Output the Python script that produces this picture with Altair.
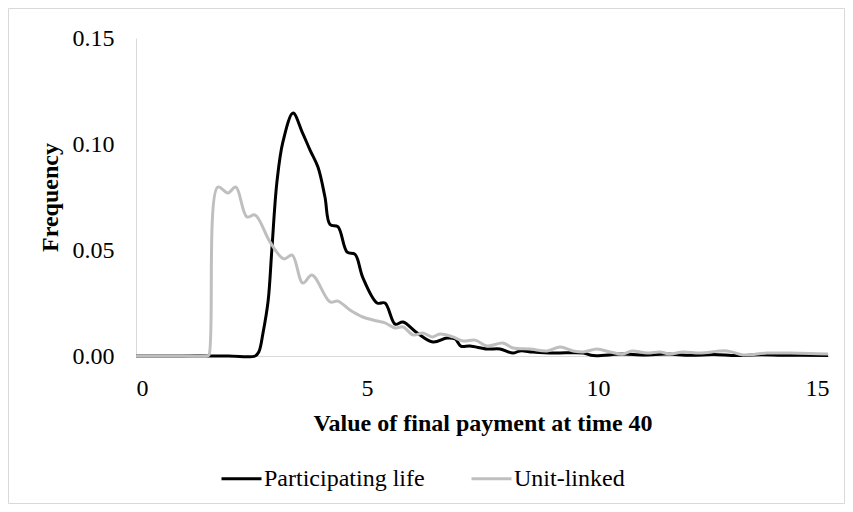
import altair as alt
import pandas as pd

# Participating life
part_x = [0.0, 1.0, 2.0, 2.58, 2.66, 2.75, 2.86, 2.94, 3.05, 3.18, 3.40, 3.59, 3.77, 3.94, 4.09, 4.20,
          4.37, 4.57, 4.74, 4.91, 5.22, 5.39, 5.61, 5.78, 6.08, 6.43, 6.73, 6.91, 7.03, 7.23,
          7.60, 7.88, 8.16, 8.31, 8.59, 9.03, 9.68, 9.90, 10.5, 11.0, 11.5, 12.0, 12.5, 13.0,
          13.5, 14.0, 14.98]
part_y = [0.0, 0.0, 0.0, 0.0, 0.002, 0.011, 0.026, 0.050, 0.082, 0.101, 0.1146, 0.106, 0.097, 0.089,
          0.075, 0.062, 0.061, 0.049, 0.048, 0.037, 0.025, 0.025, 0.015, 0.016, 0.011, 0.0066,
          0.0085, 0.0080, 0.0047, 0.0047, 0.0033, 0.0033, 0.0014, 0.0024, 0.0019, 0.0014,
          0.0014, 0.0002, 0.0009, 0.0005, 0.0009, 0.0003, 0.0007, 0.0002, 0.0006, 0.0004, 0.0002]

# Unit-linked
unit_x = [0.0, 0.5, 1.0, 1.54, 1.58, 1.77, 1.99, 2.16, 2.40, 2.58, 2.90, 3.20, 3.38, 3.61, 3.81, 4.20,
          4.37, 4.63, 4.91, 5.22, 5.39, 5.61, 5.78, 6.00, 6.21, 6.41, 6.58, 6.86, 7.08, 7.34,
          7.60, 7.94, 8.16, 8.53, 8.90, 9.18, 9.46, 9.68, 9.98, 10.26, 10.52, 10.74, 11.06,
          11.34, 11.56, 11.84, 12.21, 12.79, 13.14, 13.66, 14.16, 14.59, 14.98]
unit_y = [0.0, 0.0, 0.0, 0.0, 0.0005, 0.0797, 0.0769, 0.0797, 0.0656, 0.0665, 0.0538, 0.0458, 0.0476,
          0.0344, 0.0382, 0.0255, 0.0259, 0.0217, 0.0184, 0.0165, 0.0156, 0.0132, 0.0137,
          0.0099, 0.0108, 0.0090, 0.0104, 0.0090, 0.0071, 0.0075, 0.0047, 0.0061, 0.0038,
          0.0033, 0.0024, 0.0042, 0.0024, 0.0019, 0.0033, 0.0019, 0.0009, 0.0024, 0.0014,
          0.0019, 0.0009, 0.0019, 0.0014, 0.0024, 0.0005, 0.0014, 0.0014, 0.0012, 0.0009]

series = ["Participating life", "Unit-linked"]
colors = ["#000000", "#bfbfbf"]
x_ticks = [0, 5, 10, 15]
y_ticks = [0.0, 0.05, 0.10, 0.15]

df = pd.concat([
    pd.DataFrame({"x": part_x, "y": part_y, "series": series[0], "order": range(len(part_x))}),
    pd.DataFrame({"x": unit_x, "y": unit_y, "series": series[1], "order": range(len(unit_x))}),
])

FONT = "Liberation Serif"

frame = alt.Chart(pd.DataFrame({"a": [0]})).mark_rect(
    fill="white", fillOpacity=0, stroke="#d9d9d9", strokeWidth=1
).encode(
    x=alt.value(-127.5), x2=alt.value(708.5), y=alt.value(-29.5), y2=alt.value(465.5)
)

lines = alt.Chart(df).mark_line(strokeWidth=3, interpolate="catmull-rom").encode(
    x=alt.X("x:Q", scale=alt.Scale(domain=[0, 15], nice=False),
            axis=alt.Axis(values=x_ticks, title="Value of final payment at time 40",
                          grid=False, ticks=False, domainColor="#d9d9d9",
                          labelPadding=20, titlePadding=11)),
    y=alt.Y("y:Q", scale=alt.Scale(domain=[0, 0.15], nice=False),
            axis=alt.Axis(values=y_ticks, format=".2f", title="Frequency",
                          grid=False, ticks=False, domainColor="#d9d9d9",
                          labelPadding=22, titlePadding=10)),
    color=alt.Color("series:N", scale=alt.Scale(domain=series, range=colors),
                    legend=alt.Legend(title=None, orient="none", legendX=84, legendY=419,
                                      direction="horizontal", symbolType="stroke",
                                      symbolSize=1600, symbolStrokeWidth=3,
                                      labelOffset=1, columnPadding=40, labelLimit=400)),
    order="order:Q",
)

chart = alt.layer(frame, lines).properties(
    width=693, height=318,
    autosize=alt.AutoSizeParams(type="none"),
    padding={"left": 128, "top": 30, "right": 16, "bottom": 148},
).configure_view(stroke=None).configure_axis(
    labelFont=FONT, titleFont=FONT, labelFontSize=24, titleFontSize=24,
    labelColor="#000000", titleColor="#000000", labelFontWeight="normal", titleFontWeight="bold",
).configure_legend(
    labelFont=FONT, labelFontSize=24, labelColor="#000000"
)

chart.save("out.html", embed_options={"renderer": "svg", "actions": False})
